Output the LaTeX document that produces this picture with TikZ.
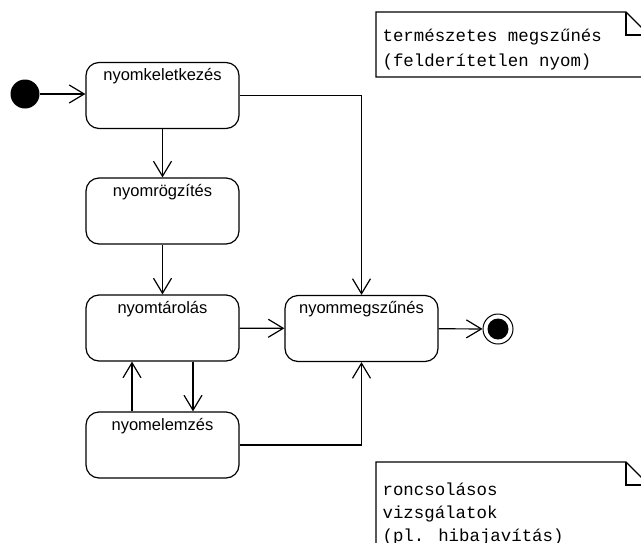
\documentclass[tikz,border=0pt]{standalone}
\usepackage{fontspec}
\setmainfont{Liberation Sans}
\newfontfamily\notefont{Liberation Mono}
\usetikzlibrary{arrows.meta}
\begin{document}
\begin{tikzpicture}[x=1pt,y=-1pt,line width=1.2pt,
  state/.style={draw,rounded corners=13pt,minimum width=153pt,minimum height=66pt,inner sep=0pt},
  statelabel/.style={anchor=base,yshift=-19pt,inner sep=0pt,font=\fontsize{16.5}{18}\selectfont},
  initial/.style={circle,fill=black,minimum size=29pt,inner sep=0pt},
  final/.style={circle,draw,fill=white,line width=1pt,minimum size=30pt,inner sep=0pt},
  finaldot/.style={circle,fill=black,minimum size=21pt,inner sep=0pt},
  flow/.style={-{Straight Barb[length=15pt,width=18pt]}},
  notetext/.style={anchor=base west,inner sep=0pt,font=\notefont\fontsize{17.4}{18}\selectfont}]
\useasboundingbox (0,0) rectangle (641,542);

% states
\node[state,label={[statelabel]north:nyomkeletkezés}] (k) at (162.5,95.5) {};
\node[state,label={[statelabel]north:nyomrögzítés}] (r) at (162.5,211) {};
\node[state,label={[statelabel]north:nyomtárolás}] (t) at (162.5,328) {};
\node[state,label={[statelabel]north:nyomelemzés}] (e) at (162.5,445) {};
\node[state,label={[statelabel]north:nyommegszűnés}] (m) at (361.5,328.5) {};

% pseudo states
\node[initial] (init) at (25,94) {};
\node[final] (fin) at (498,329) {};
\node[finaldot] at (fin) {};

% transitions
\draw[flow] (init.east) -- (init.east -| k.west);
\draw[flow] (k) -- (r);
\draw[flow] (r) -- (t);
\draw[flow] (t) -- (m);
\draw[flow] (m) -- (fin);
\draw[flow] (k.east) -| (m.north);
\draw[flow] (e.east) -| (m.south);
\draw[flow] ([xshift=-30.5pt]e.north) -- ([xshift=-30.5pt]t.south);
\draw[flow] ([xshift=30.5pt]t.south) -- ([xshift=30.5pt]e.north);

% notes
\draw (376,12) -- (626,12) -- (649,35) -- (649,77) -- (376,77) -- cycle;
\draw (626,12) -- (626,35) -- (649,35);
\node[notetext] at (382,41) {természetes megszűnés};
\node[notetext] at (382,66) {(felderítetlen nyom)};

\draw (376,462) -- (626,462) -- (649,485) -- (649,560) -- (376,560) -- cycle;
\draw (626,462) -- (626,485) -- (649,485);
\node[notetext] at (382,495) {roncsolásos};
\node[notetext] at (382,518) {vizsgálatok};
\node[notetext] at (382,541) {(pl. hibajavítás)};
\end{tikzpicture}
\end{document}
